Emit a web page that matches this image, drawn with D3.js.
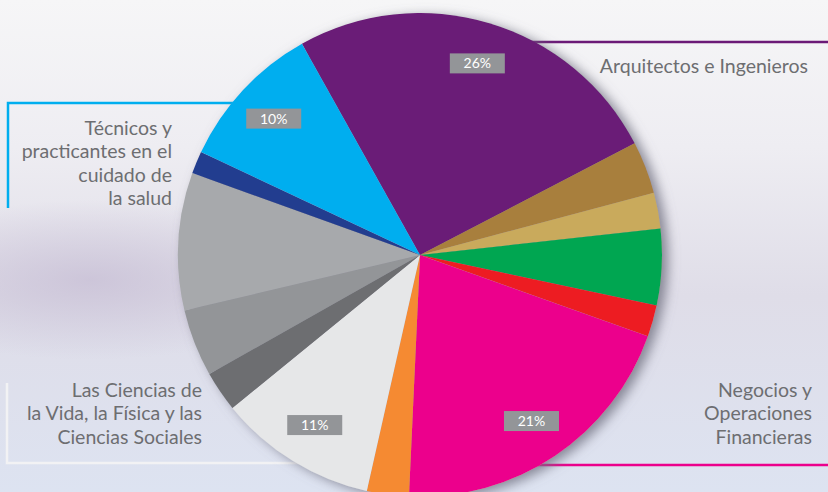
<!DOCTYPE html>
<html>
<head>
<meta charset="utf-8">
<script src="https://cdn.jsdelivr.net/npm/d3@7"></script>
<style>
	html, body { margin: 0; padding: 0; }
	svg { display: block; }
	text { font-family: Lato, "Open Sans", sans-serif; }
</style>
</head>
<body>
<svg width="828" height="492"></svg>
<script>
'use strict';

// Slice values (share of total, clockwise from the purple slice)
var sliceKeys = ['arquitectos', 'otros1', 'otros2', 'otros3', 'otros4', 'negocios',
	'otros5', 'ciencias', 'otros6', 'otros7', 'otros8', 'otros9', 'tecnicos'];
var sliceValues = [25.5, 3.5, 2.4, 5.1, 2.1, 20.3, 2.8, 10.6, 2.7, 4.5, 9.2, 1.5, 9.9];
var sliceColors = ['#6b1a77', '#a87f3e', '#c9aa5b', '#00a651', '#ed1c24', '#ec008c',
	'#f58a33', '#e6e7e8', '#6d6e71', '#939598', '#a7a9ac', '#233e8f', '#00aeef'];

// Percent labels shown on the pie
var pctKeys = ['arquitectos', 'negocios', 'ciencias', 'tecnicos'];
var pctTexts = ['26%', '21%', '11%', '10%'];

// Callout texts
var calloutArq = ['Arquitectos e Ingenieros'];
var calloutTec = ['Técnicos y', 'practicantes en el', 'cuidado de', 'la salud'];
var calloutCie = ['Las Ciencias de', 'la Vida, la Física y las', 'Ciencias Sociales'];
var calloutNeg = ['Negocios y', 'Operaciones', 'Financieras'];

var width = 828, height = 492;
var cx = 420, cy = 255, radius = 242;
var svg = d3.select('svg');
var defs = svg.append('defs');

// background
var bg = defs.append('linearGradient').attr('id', 'bg').attr('x1', 0).attr('y1', 0).attr('x2', 0).attr('y2', 1);
bg.append('stop').attr('offset', '0%').attr('stop-color', '#f6f6f7');
bg.append('stop').attr('offset', '30%').attr('stop-color', '#eeedf2');
bg.append('stop').attr('offset', '60%').attr('stop-color', '#dfdde8');
bg.append('stop').attr('offset', '100%').attr('stop-color', '#dde3f1');
var haze = defs.append('radialGradient').attr('id', 'haze');
haze.append('stop').attr('offset', '0%').attr('stop-color', '#c6bdd4').attr('stop-opacity', 0.75);
haze.append('stop').attr('offset', '100%').attr('stop-color', '#c6bdd4').attr('stop-opacity', 0);

var shadow = defs.append('filter').attr('id', 'shadow')
	.attr('x', '-20%').attr('y', '-20%').attr('width', '140%').attr('height', '140%');
shadow.append('feDropShadow').attr('dx', 6).attr('dy', 3).attr('stdDeviation', 6)
	.attr('flood-color', '#6f7080').attr('flood-opacity', 0.8);

svg.append('rect').attr('width', width).attr('height', height).attr('fill', 'url(#bg)');
svg.append('ellipse').attr('cx', 90).attr('cy', 280).attr('rx', 230).attr('ry', 80)
	.attr('fill', 'url(#haze)');

// callout lines (drawn under the pie)
var lines = svg.append('g').attr('class', 'callout-lines').attr('fill', 'none').attr('stroke-width', 2.5);
lines.append('path').attr('d', 'M525,42H828').attr('stroke', '#6b1a77');
lines.append('path').attr('d', 'M8,208V103H240').attr('stroke', '#00aeef');
lines.append('path').attr('d', 'M7,383V463H310').attr('stroke', '#f2f2f4');
lines.append('path').attr('d', 'M525,465H828').attr('stroke', '#ec008c');

// pie
var pie = d3.pie().sort(null).value(function (d) { return d; })
	.startAngle(-29.2 * Math.PI / 180)
	.endAngle(-29.2 * Math.PI / 180 + 2 * Math.PI);
var arc = d3.arc().innerRadius(0).outerRadius(radius);
var arcs = pie(sliceValues);

var g = svg.append('g').attr('transform', 'translate(' + cx + ',' + cy + ')');
g.append('g').attr('filter', 'url(#shadow)')
	.selectAll('path')
	.data(arcs)
	.enter()
	.append('path')
	.attr('d', arc)
	.attr('fill', function (d, i) { return sliceColors[i]; });

// percent boxes
var labelArc = d3.arc().innerRadius(200).outerRadius(200);
var boxes = g.selectAll('g.pct')
	.data(pctKeys)
	.enter()
	.append('g')
	.attr('class', 'pct')
	.attr('transform', function (k) {
		var c = labelArc.centroid(arcs[sliceKeys.indexOf(k)]);
		return 'translate(' + c[0] + ',' + c[1] + ')';
	});
boxes.append('rect').attr('x', -27.5).attr('y', -10).attr('width', 55).attr('height', 20)
	.attr('fill', '#939598');
boxes.append('text').attr('text-anchor', 'middle').attr('dy', '0.36em')
	.attr('fill', '#fff').attr('font-size', 14)
	.text(function (k, i) { return pctTexts[i]; });

// callout texts, right aligned
function callout(linesText, x, y0) {
	svg.append('text').attr('text-anchor', 'end').attr('fill', '#6d6e71').attr('font-size', 19.5)
		.selectAll('tspan')
		.data(linesText)
		.enter()
		.append('tspan')
		.attr('x', x)
		.attr('y', function (d, i) { return y0 + i * 23.3; })
		.text(function (d) { return d; });
}
callout(calloutArq, 808, 73);
callout(calloutTec, 172, 135);
callout(calloutCie, 202, 397);
callout(calloutNeg, 812, 397);
</script>
</body>
</html>
